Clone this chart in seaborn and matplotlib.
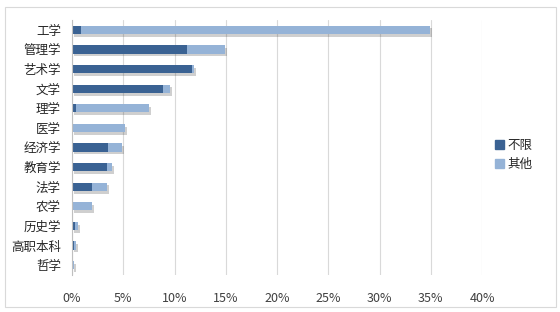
import matplotlib
matplotlib.use("Agg")
import matplotlib.pyplot as plt
import matplotlib.patheffects as pe
from matplotlib.patches import Rectangle
from matplotlib.ticker import FuncFormatter, FixedLocator
import seaborn as sns
import pandas as pd

categories = ["工学", "管理学", "艺术学", "文学", "理学", "医学", "经济学",
              "教育学", "法学", "农学", "历史学", "高职本科", "哲学"]
buxian = [0.9, 11.2, 11.7, 8.9, 0.4, 0.0, 3.5, 3.4, 1.95, 0.0, 0.3, 0.2, 0.0]
qita = [34.0, 3.7, 0.2, 0.7, 7.1, 5.2, 1.4, 0.5, 1.45, 1.95, 0.3, 0.2, 0.15]
series_names = ["不限", "其他"]
xticks = [0, 5, 10, 15, 20, 25, 30, 35, 40]

dark = "#3A6293"
light = "#95B3D7"

sns.set_theme(style="white")
plt.rcParams["font.family"] = ["Noto Sans CJK SC", "DejaVu Sans"]

df = pd.DataFrame({"cat": categories, "buxian": buxian,
                   "total": [a + b for a, b in zip(buxian, qita)]})

fig = plt.figure(figsize=(5.6, 3.12), dpi=100)
ax = fig.add_axes([72 / 560, 1 - 275 / 312, 410 / 560, 255 / 312])

shadow = [pe.SimplePatchShadow(offset=(1.5, -2), alpha=0.25, shadow_rgbFace="#404040"), pe.Normal()]

sns.barplot(data=df, y="cat", x="total", order=categories, color=light,
            saturation=1, width=0.42, ax=ax, orient="h", linewidth=0)
for p in ax.patches:
    p.set_linewidth(0)
    p.set_path_effects(shadow)
n_prev = len(ax.patches)
sns.barplot(data=df, y="cat", x="buxian", order=categories, color=dark,
            saturation=1, width=0.42, ax=ax, orient="h", linewidth=0)
for p in ax.patches[n_prev:]:
    p.set_linewidth(0)

ax.set_xlim(0, 40)
ax.set_ylim(len(categories) - 0.5, -0.5)
ax.set_xticks(xticks)
ax.xaxis.set_major_formatter(FuncFormatter(lambda v, _: f"{int(v)}%"))
ax.set_xlabel("")
ax.set_ylabel("")
ax.grid(axis="x", color="#D9D9D9", linewidth=0.8)
ax.set_axisbelow(True)
for s in ["top", "right", "bottom"]:
    ax.spines[s].set_visible(False)
ax.spines["left"].set_color("#BFBFBF")
ax.spines["left"].set_linewidth(0.8)

ax.tick_params(axis="x", length=0, labelsize=9, colors="#404040", pad=12)
ax.tick_params(axis="y", which="major", length=0, labelsize=9, colors="#262626", pad=8)
ax.yaxis.set_minor_locator(FixedLocator([i - 0.5 for i in range(len(categories) + 1)]))
ax.tick_params(axis="y", which="minor", length=5, color="#BFBFBF", width=0.8, direction="out")

handles = [Rectangle((0, 0), 1, 1, color=dark), Rectangle((0, 0), 1, 1, color=light)]
fig.legend(handles, series_names, loc="center left", bbox_to_anchor=(484 / 560, 1 - 155 / 312),
           frameon=False, fontsize=9, handlelength=0.7, handleheight=0.7,
           handletextpad=0.3, labelspacing=0.5, labelcolor="#262626")

border = Rectangle((4.5 / 560, 1 - 307 / 312), 551 / 560, 300.5 / 312,
                   transform=fig.transFigure, fill=False, edgecolor="#D9D9D9",
                   linewidth=0.8)
fig.patches.append(border)

fig.savefig("out.png", dpi=100)
